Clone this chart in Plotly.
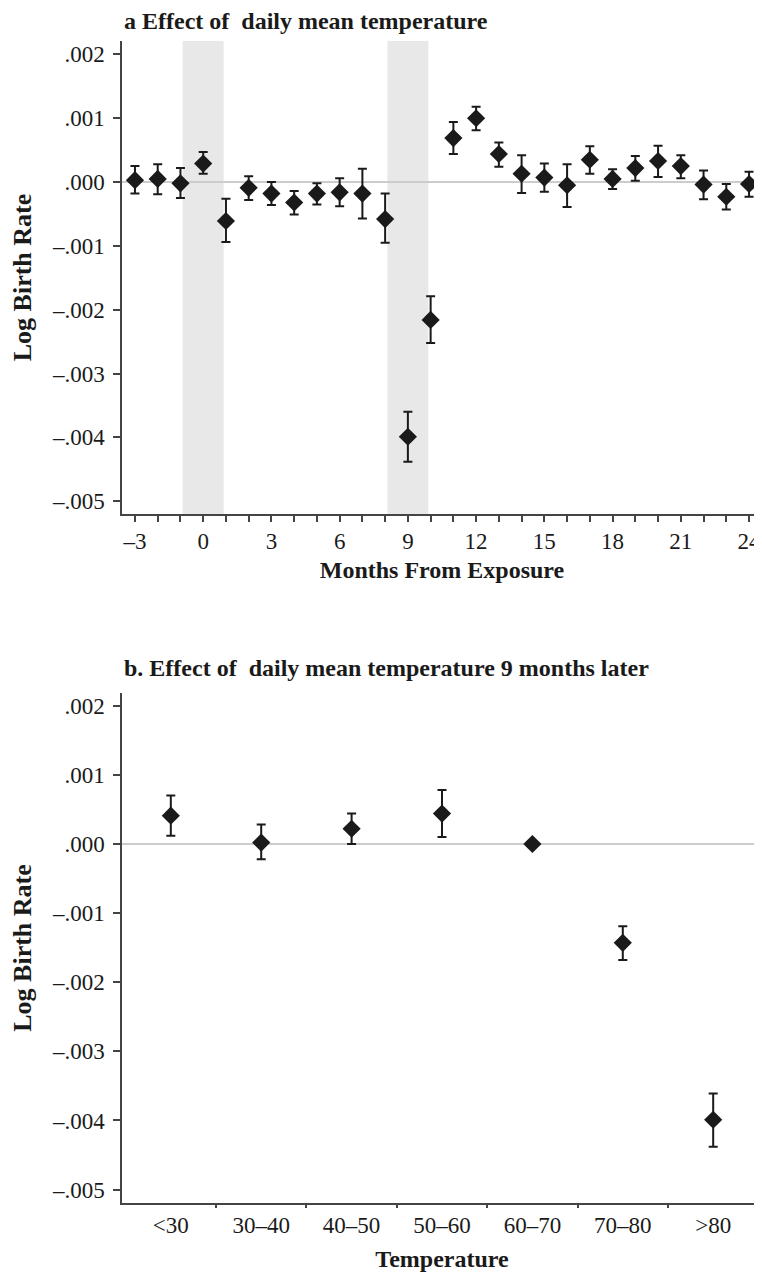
import plotly.graph_objects as go
from plotly.subplots import make_subplots

# panel a: months from exposure
months = list(range(-3, 25))
est_a = [0.00003, 0.00005, -0.00002, 0.00029, -0.00061, -0.00009, -0.00018, -0.00032,
         -0.00018, -0.00016, -0.00018, -0.00058, -0.00399, -0.00216, 0.00069, 0.00100,
         0.00044, 0.00013, 0.00007, -0.00005, 0.00035, 0.00005, 0.00022, 0.00033,
         0.00025, -0.00004, -0.00023, -0.00003]
hi_a = [0.00025, 0.00028, 0.00022, 0.00047, -0.00026, 0.00009, 0.00000, -0.00014,
        -0.00002, 0.00006, 0.00021, -0.00018, -0.00360, -0.00179, 0.00094, 0.00118,
        0.00062, 0.00042, 0.00029, 0.00028, 0.00056, 0.00020, 0.00041, 0.00057,
        0.00042, 0.00018, -0.00003, 0.00016]
lo_a = [-0.00018, -0.00019, -0.00025, 0.00013, -0.00094, -0.00028, -0.00036, -0.00051,
        -0.00035, -0.00038, -0.00057, -0.00095, -0.00438, -0.00252, 0.00044, 0.00081,
        0.00024, -0.00017, -0.00015, -0.00039, 0.00013, -0.00011, 0.00002, 0.00008,
        0.00006, -0.00027, -0.00043, -0.00023]
shade_bands = [(-0.9, 0.9), (8.1, 9.9)]

# panel b: temperature bins
temp_bins = ["<30", "30–40", "40–50", "50–60", "60–70", "70–80", ">80"]
est_b = [0.00041, 0.00002, 0.00022, 0.00044, 0.0, -0.00143, -0.00399]
hi_b = [0.00070, 0.00028, 0.00044, 0.00078, 0.0, -0.00119, -0.00361]
lo_b = [0.00012, -0.00022, 0.00000, 0.00010, 0.0, -0.00168, -0.00438]

y_ticks = [0.002, 0.001, 0.0, -0.001, -0.002, -0.003, -0.004, -0.005]
y_labels = [".002", ".001", ".000", "–.001", "–.002", "–.003", "–.004", "–.005"]

FONT = "Liberation Serif"
INK = "#1a1a1a"
AXIS = "#444444"
TICK_SIZE = 23
TITLE_SIZE = 24
AXTITLE_SIZE = 24

# the page body adds an 8px margin, so the figure is drawn 8px smaller
OFF = 8
W, H = 762 - OFF, 1273 - OFF


def py(y_screen):
    return 1 - (y_screen - OFF) / H


fig = make_subplots(rows=2, cols=1)


def add_points(x, est, lo, hi, row):
    fig.add_trace(
        go.Scatter(
            x=x, y=est, mode="markers",
            marker=dict(symbol="diamond", size=14, color=INK),
            error_y=dict(
                type="data", symmetric=False,
                array=[h - e for h, e in zip(hi, est)],
                arrayminus=[e - l for e, l in zip(est, lo)],
                color=INK, thickness=2, width=4.5,
            ),
            showlegend=False,
        ),
        row=row, col=1,
    )


add_points(months, est_a, lo_a, hi_a, 1)
add_points(list(range(len(temp_bins))), est_b, lo_b, hi_b, 2)

for x0, x1 in shade_bands:
    fig.add_vrect(x0=x0, x1=x1, fillcolor="#e8e8e8", line_width=0, layer="below", row=1, col=1)

yaxis_common = dict(
    tickvals=y_ticks, ticktext=y_labels, automargin=False,
    showgrid=False, zeroline=True, zerolinecolor="#cccccc", zerolinewidth=2,
    showline=True, linecolor=AXIS, linewidth=1.5,
    ticks="outside", ticklen=7, tickwidth=1.5, tickcolor=AXIS,
    ticklabelstandoff=4,
    tickfont=dict(family=FONT, size=TICK_SIZE, color=INK),
    title=dict(text="<b>Log Birth Rate</b>", font=dict(family=FONT, size=26, color=INK), standoff=13),
)

fig.update_yaxes(range=[-0.0052, 0.00221], domain=[py(514), py(41)], row=1, col=1, **yaxis_common)
fig.update_yaxes(range=[-0.00519, 0.00218], domain=[py(1202.7), py(693.3)], row=2, col=1, **yaxis_common)

fig.update_xaxes(
    range=[-3.57, 24.57], automargin=False,
    tickvals=months,
    ticktext=[f"{m}".replace("-", "–") if m % 3 == 0 else "" for m in months],
    showgrid=False, zeroline=False,
    showline=True, linecolor=AXIS, linewidth=1.5,
    ticks="outside", ticklen=6, tickwidth=1.5, tickcolor=AXIS,
    ticklabelstandoff=0, ticklabeloverflow="allow",
    tickfont=dict(family=FONT, size=TICK_SIZE, color=INK),
    title=dict(text="<b>Months From Exposure</b>", font=dict(family=FONT, size=AXTITLE_SIZE, color=INK), standoff=8),
    row=1, col=1,
)

fig.update_xaxes(
    range=[-0.54, 6.54], automargin=False,
    tickvals=list(range(len(temp_bins))), ticktext=temp_bins,
    showgrid=False, zeroline=False,
    showline=True, linecolor=AXIS, linewidth=1.5,
    ticks="", ticklabelstandoff=1, ticklabeloverflow="allow",
    minor=dict(tickvals=[i + 0.5 for i in range(len(temp_bins) - 1)], ticks="outside",
               ticklen=4, tickwidth=1.5, tickcolor=AXIS, showgrid=False),
    tickfont=dict(family=FONT, size=TICK_SIZE, color=INK),
    title=dict(text="<b>Temperature</b>", font=dict(family=FONT, size=AXTITLE_SIZE, color=INK), standoff=13),
    row=2, col=1,
)

fig.add_annotation(
    text="<b>a Effect of  daily mean temperature</b>", xref="paper", yref="paper",
    x=0, y=py(21), xanchor="left", yanchor="middle", showarrow=False,
    font=dict(family=FONT, size=TITLE_SIZE, color=INK),
)
fig.add_annotation(
    text="<b>b. Effect of  daily mean temperature 9 months later</b>", xref="paper", yref="paper",
    x=0, y=py(668), xanchor="left", yanchor="middle", showarrow=False,
    font=dict(family=FONT, size=TITLE_SIZE, color=INK),
)

fig.update_layout(
    width=W, height=H,
    margin=dict(l=122 - OFF, r=0, t=0, b=0),
    plot_bgcolor="white", paper_bgcolor="white",
    font=dict(family=FONT, color=INK),
)

fig.write_html("out.html")
